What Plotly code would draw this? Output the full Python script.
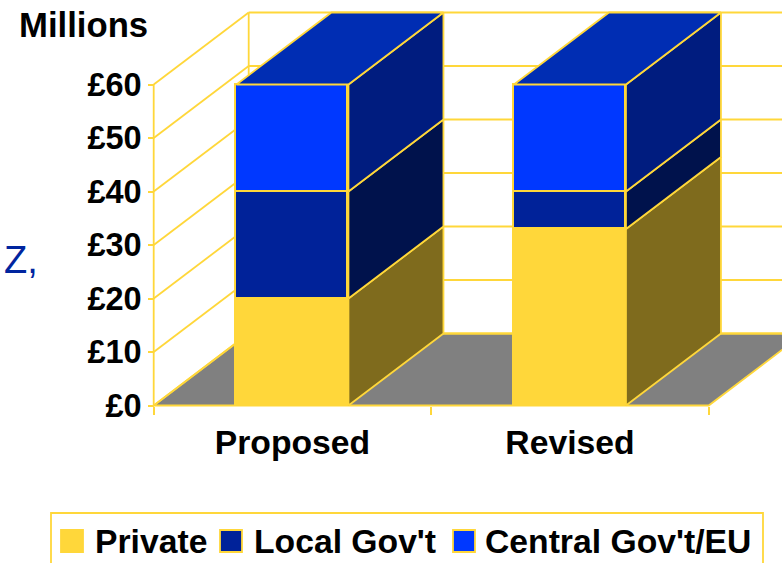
import plotly.graph_objects as go

categories = ["Proposed", "Revised"]
series_names = ["Private", "Local Gov't", "Central Gov't/EU"]
private = [20, 33]
local_govt = [20, 7]
central_govt = [20, 20]
y_ticks = [0, 10, 20, 30, 40, 50, 60]
y_tick_labels = ["£0", "£10", "£20", "£30", "£40", "£50", "£60"]

W, H = 782, 563
PX_X = 277.5          # pixels per category
PX_Y = 5.35           # pixels per pound-million
X0_PX, Y0_PX = 153.7, 405.5
DX = 95 / PX_X        # oblique depth in data units
DY = 72 / PX_Y
BAR_W = 112 / PX_X
YEL = "#FFD73A"
LW = 1.8
FONT = "Liberation Sans"

front = ["#FFD73A", "#002299", "#0038FF"]
side = ["#7F6B1D", "#00124C", "#001C7F"]
top_face = "#002DB3"
floor = "#808080"

xr = [-0.5 - X0_PX / PX_X, -0.5 + (W - X0_PX) / PX_X]
yr = [-(H - Y0_PX) / PX_Y, Y0_PX / PX_Y]
XL, XR = -0.5, 1.5
TOP = y_ticks[-1]

fig = go.Figure()
shapes = []

def poly(pts):
    return "M" + "L".join(f"{x:.5f},{y:.5f}" for x, y in pts) + "Z"

def line(x0, y0, x1, y1, w=LW):
    shapes.append(dict(type="line", xref="x", yref="y", x0=x0, y0=y0, x1=x1, y1=y1,
                       line=dict(color=YEL, width=w), layer="below"))

# floor
shapes.append(dict(type="path", xref="x", yref="y", layer="below",
                   path=poly([(XL, 0), (XR, 0), (XR + DX, DY), (XL + DX, DY)]),
                   fillcolor=floor, line=dict(color=YEL, width=LW)))
# gridlines on both walls
for t in y_ticks:
    line(XL, t, XL + DX, t + DY)
    line(XL + DX, t + DY, XR + DX, t + DY)
line(XL, 0, XL, TOP)
line(XL + DX, DY, XL + DX, TOP + DY)

# front faces
all_vals = [private, local_govt, central_govt]
for i, name in enumerate(series_names):
    fig.add_trace(go.Bar(x=[0, 1], y=all_vals[i], name=name, width=BAR_W,
                         marker=dict(color=front[i], line=dict(color=YEL, width=LW)),
                         showlegend=False))

# side and top faces
for c in range(len(categories)):
    xa = c + BAR_W / 2
    xb = c - BAR_W / 2
    base = 0
    for i in range(3):
        v = all_vals[i][c]
        px = [xa, xa + DX, xa + DX, xa, xa]
        py = [base, base + DY, base + v + DY, base + v, base]
        fig.add_trace(go.Scatter(x=px, y=py, mode="lines", fill="toself", fillcolor=side[i],
                                 line=dict(color=YEL, width=LW), showlegend=False,
                                 hoverinfo="skip"))
        base += v
    px = [xb, xa, xa + DX, xb + DX, xb]
    py = [base, base, base + DY, base + DY, base]
    fig.add_trace(go.Scatter(x=px, y=py, mode="lines", fill="toself", fillcolor=top_face,
                             line=dict(color=YEL, width=LW), showlegend=False,
                             hoverinfo="skip"))

# legend box
shapes.append(dict(type="rect", xref="paper", yref="paper", x0=51/W, x1=763/W,
                   y0=1 - 580/H, y1=1 - 513/H, line=dict(color=YEL, width=LW),
                   fillcolor="white", layer="above"))
swatch_x = [61, 220, 453]
text_x = [92.5, 251.5, 482.5]
ann = []
for i, name in enumerate(series_names):
    shapes.append(dict(type="rect", xref="paper", yref="paper", x0=swatch_x[i]/W,
                       x1=(swatch_x[i]+22)/W, y0=1-552/H, y1=1-530/H, fillcolor=front[i],
                       line=dict(color=YEL, width=LW), layer="above"))
    ann.append(dict(text=name, xref="paper", yref="paper", x=text_x[i]/W, y=1-541/H,
                    xanchor="left", yanchor="middle", showarrow=False,
                    font=dict(family=FONT, size=33.7, color="black", weight="bold")))
ann.append(dict(text="Millions", xref="paper", yref="paper", x=83.5/W, y=1-25/H,
                xanchor="center", yanchor="middle", showarrow=False,
                font=dict(family=FONT, size=34.7, color="black", weight="bold")))
ann.append(dict(text="Z,", xref="paper", yref="paper", x=39.5/W, y=1-260/H,
                xanchor="right", yanchor="middle", showarrow=False,
                font=dict(family=FONT, size=38, color="#00259F")))

tick_font = dict(family=FONT, size=32.5, color="black", weight="bold")
x_font = dict(family=FONT, size=33.7, color="black", weight="bold")
fig.update_layout(
    width=W, height=H, margin=dict(l=0, r=0, t=0, b=0), barmode="stack", bargap=0,
    plot_bgcolor="white", paper_bgcolor="white", showlegend=False,
    shapes=shapes, annotations=ann,
    xaxis=dict(range=xr, showgrid=False, zeroline=False, showline=False, anchor="free",
               position=(H - Y0_PX) / H, tickmode="array", tickvals=[0, 1],
               ticktext=categories, ticks="outside", ticklen=7, tickcolor="rgba(0,0,0,0)",
               tickfont=x_font, domain=[0, 1],
               minor=dict(tickmode="array", tickvals=[-0.5, 0.5, 1.5], ticks="outside",
                          ticklen=8, tickcolor=YEL, tickwidth=LW)),
    yaxis=dict(range=yr, showgrid=False, zeroline=False, showline=False, anchor="free",
               position=X0_PX / W, tickmode="array", tickvals=y_ticks, ticktext=y_tick_labels,
               ticks="outside", ticklen=5.5, tickcolor=YEL, tickwidth=LW, tickfont=tick_font,
               domain=[0, 1]),
)
fig.write_html("out.html", config=dict(displayModeBar=False),
               post_script="document.body.style.margin='0';document.body.style.overflow='hidden';")
